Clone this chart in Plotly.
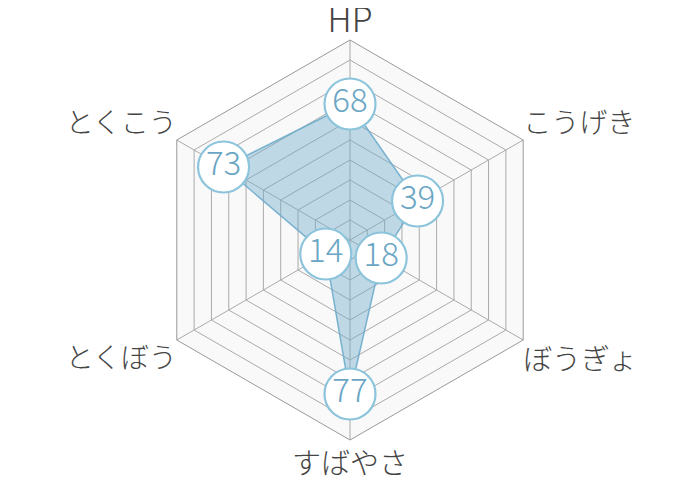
import plotly.graph_objects as go

categories = ["HP", "こうげき", "ぼうぎょ", "すばやさ", "とくぼう", "とくこう"]
values = [68, 39, 18, 77, 14, 73]
radial_max = 100
radial_step = 10

# label styling (placement relative to each axis end)
label_pos = ["top center", "top right", "bottom right", "bottom center", "bottom left", "top left"]
label_size = [34, 28, 29, 29, 28, 28]
label_r = [100, 100, 89, 100, 90.4, 100]
label_pad = [0, 0, 28.6, 17.6, 25, 0]

theta = categories + [categories[0]]
r = values + [values[0]]

fig = go.Figure()
fig.add_trace(go.Scatterpolar(
    r=r, theta=theta,
    mode="lines",
    fill="toself",
    fillcolor="rgba(110,172,204,0.42)",
    line=dict(color="rgba(110,172,204,0.9)", width=1.5),
    hoverinfo="skip",
    showlegend=False,
))
fig.add_trace(go.Scatterpolar(
    r=values, theta=categories,
    mode="markers+text",
    text=[str(v) for v in values],
    textposition="middle center",
    textfont=dict(family="Noto Sans CJK JP, Noto Sans, sans-serif", size=33,
                  color="#6aa6c4", weight=300),
    marker=dict(size=51, color="white", line=dict(color="#8cc4dc", width=2.2)),
    showlegend=False,
    cliponaxis=False,
))
# axis labels at the ends of each spoke
fig.add_trace(go.Scatterpolar(
    r=label_r, theta=categories,
    mode="markers+text",
    text=categories,
    textposition=label_pos,
    textfont=dict(family="Noto Sans CJK JP, Noto Sans, sans-serif", size=label_size,
                  color="#444444", weight=300),
    marker=dict(size=label_pad, color="rgba(0,0,0,0)", line=dict(width=0)),
    showlegend=False,
    cliponaxis=False,
    hoverinfo="skip",
))

fig.update_layout(
    width=700, height=480,
    margin=dict(l=0, r=0, t=0, b=0),
    paper_bgcolor="white",
    font=dict(family="Noto Sans CJK JP, Noto Sans, sans-serif"),
    polar=dict(
        domain=dict(x=[142/700, 542/700], y=[48/480, 448/480]),
        gridshape="linear",
        bgcolor="#f9f9f9",
        radialaxis=dict(
            range=[0, radial_max], dtick=radial_step, tick0=0,
            showticklabels=False, ticks="", showline=False,
            gridcolor="#aaaaaa", gridwidth=1,
        ),
        angularaxis=dict(
            direction="clockwise", rotation=90,
            showticklabels=False,
            ticks="", showline=True, linecolor="#999999", linewidth=1,
            gridcolor="#aaaaaa", gridwidth=1,
        ),
    ),
)

fig.write_html("out.html")
